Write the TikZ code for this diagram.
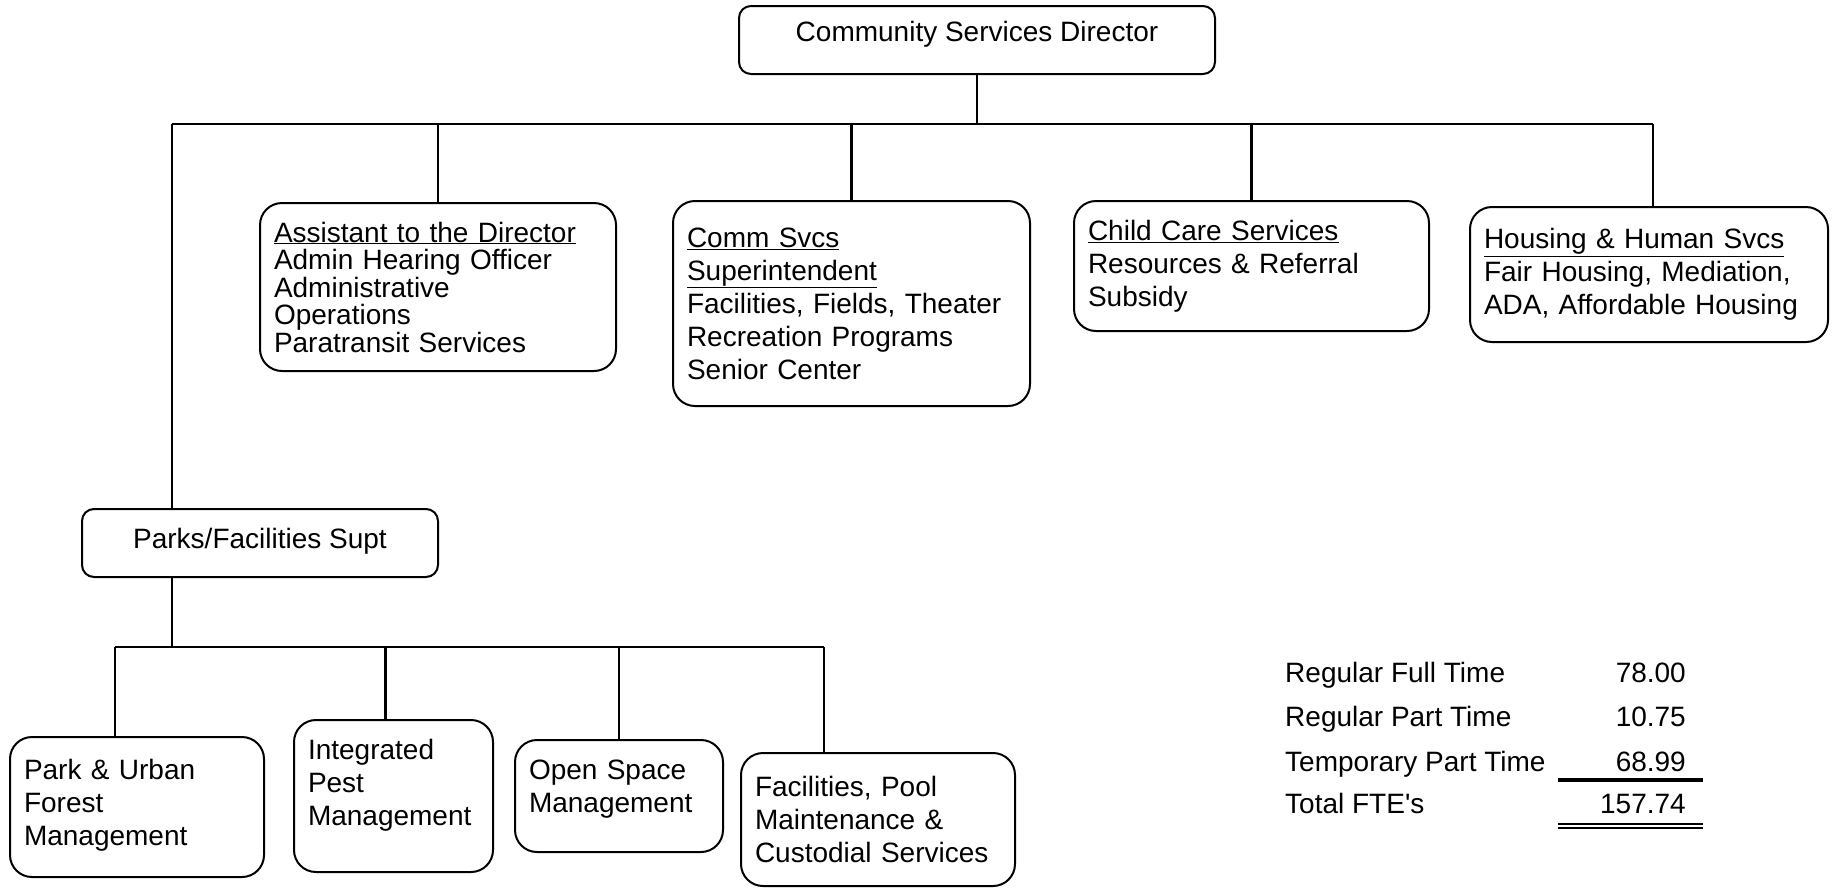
\documentclass[tikz,border=0pt]{standalone}
\usepackage{fontspec}
\setmainfont{Liberation Sans}
\newcommand\tightlines{\fontsize{28}{27.5}\selectfont\lineskiplimit=-50pt\relax}
\begin{document}
\begin{tikzpicture}[
    x=1pt, y=-1pt,
    font=\fontsize{28}{33}\selectfont,
    every node/.style={inner sep=0pt},
    unit/.style={draw, line width=2pt, rounded corners=22pt, align=left, inner xsep=14pt},
    head/.style={draw, line width=2pt, rounded corners=12pt, align=center},
    link/.style={line width=2.2pt},
    bus/.style={line width=2.8pt}
  ]
  \useasboundingbox (0,0) rectangle (1833,887);

  \node[head, minimum width=476pt, minimum height=68pt, text depth=18pt] (dir) at (977,40) {Community Services Director};

  \node[unit, text width=328pt, minimum height=168pt, font=\tightlines] (asst) at (438,287)
    {\underline{Assistant to the Director}\\ Admin Hearing Officer\\ Administrative\\ Operations\\ Paratransit Services};
  \node[unit, text width=329pt, minimum height=205pt] (comm) at (851.5,303.5)
    {\underline{Comm Svcs}\\ \underline{Superintendent}\\ Facilities, Fields, Theater\\ Recreation Programs\\ Senior Center};
  \node[unit, text width=327pt, minimum height=130pt] (child) at (1251.5,266)
    {\underline{Child Care Services}\\ Resources \& Referral\\ Subsidy};
  \node[unit, text width=330pt, minimum height=135pt] (hhs) at (1649,274.5)
    {\underline{Housing \& Human Svcs}\\ Fair Housing, Mediation,\\ ADA, Affordable Housing};

  \node[head, minimum width=356pt, minimum height=68pt, text depth=10pt] (parks) at (260,543) {Parks/Facilities Supt};

  \node[unit, text width=226pt, minimum height=140pt, text depth=75pt] (urban) at (137,807) {Park \& Urban\\ Forest\\ Management};
  \node[unit, text width=171pt, minimum height=152pt, text depth=94pt] (pest) at (393.5,796) {Integrated\\ Pest\\ Management};
  \node[unit, text width=180pt, minimum height=112pt, text depth=52pt] (open) at (619,796) {Open Space\\ Management};
  \node[unit, text width=246pt, minimum height=133pt] (facil) at (878,819.5) {Facilities, Pool\\ Maintenance \&\\ Custodial Services};

  % top level bus
  \coordinate (busL) at (172,124);
  \coordinate (busR) at (1653,124);
  \draw[bus] (busL) -- (busR);
  \draw[link] (dir.south) -- (dir.south |- busL);
  \foreach \n in {asst,comm,child}
    \draw[link] (\n.north) -- (\n.north |- busL);
  \draw[link] (busR) -- (busR |- hhs.north);
  \draw[link] (busL) -- (busL |- parks.north);

  % parks bus
  \coordinate (subL) at (115,647);
  \coordinate (subR) at (824,647);
  \coordinate (pestTop) at ([xshift=-8pt]pest.north);
  \draw[bus] (subL) -- (subR);
  \draw[link] (busL |- parks.south) -- (busL |- subL);
  \draw[link] (subL) -- (subL |- urban.north);
  \draw[link] (pestTop) -- (pestTop |- subL);
  \draw[link] (open.north) -- (open.north |- subL);
  \draw[link] (subR) -- (subR |- facil.north);

  % FTE summary
  \foreach \lab/\num/\yy [count=\i] in {Regular Full Time/78.00/682, Regular Part Time/10.75/726,
      Temporary Part Time/68.99/771, Total FTE\textquotesingle s/157.74/813} {
    \node[anchor=base west] (lab\i) at (1285,\yy) {\lab};
    \node[anchor=base east] (num\i) at (1686,\yy) {\num};
  }
  \draw[line width=3.3pt] (1558,780) -- (1703,780);
  \draw[line width=2pt] (1558,824.3) -- (1703,824.3) (1558,828.3) -- (1703,828.3);

\end{tikzpicture}
\end{document}
